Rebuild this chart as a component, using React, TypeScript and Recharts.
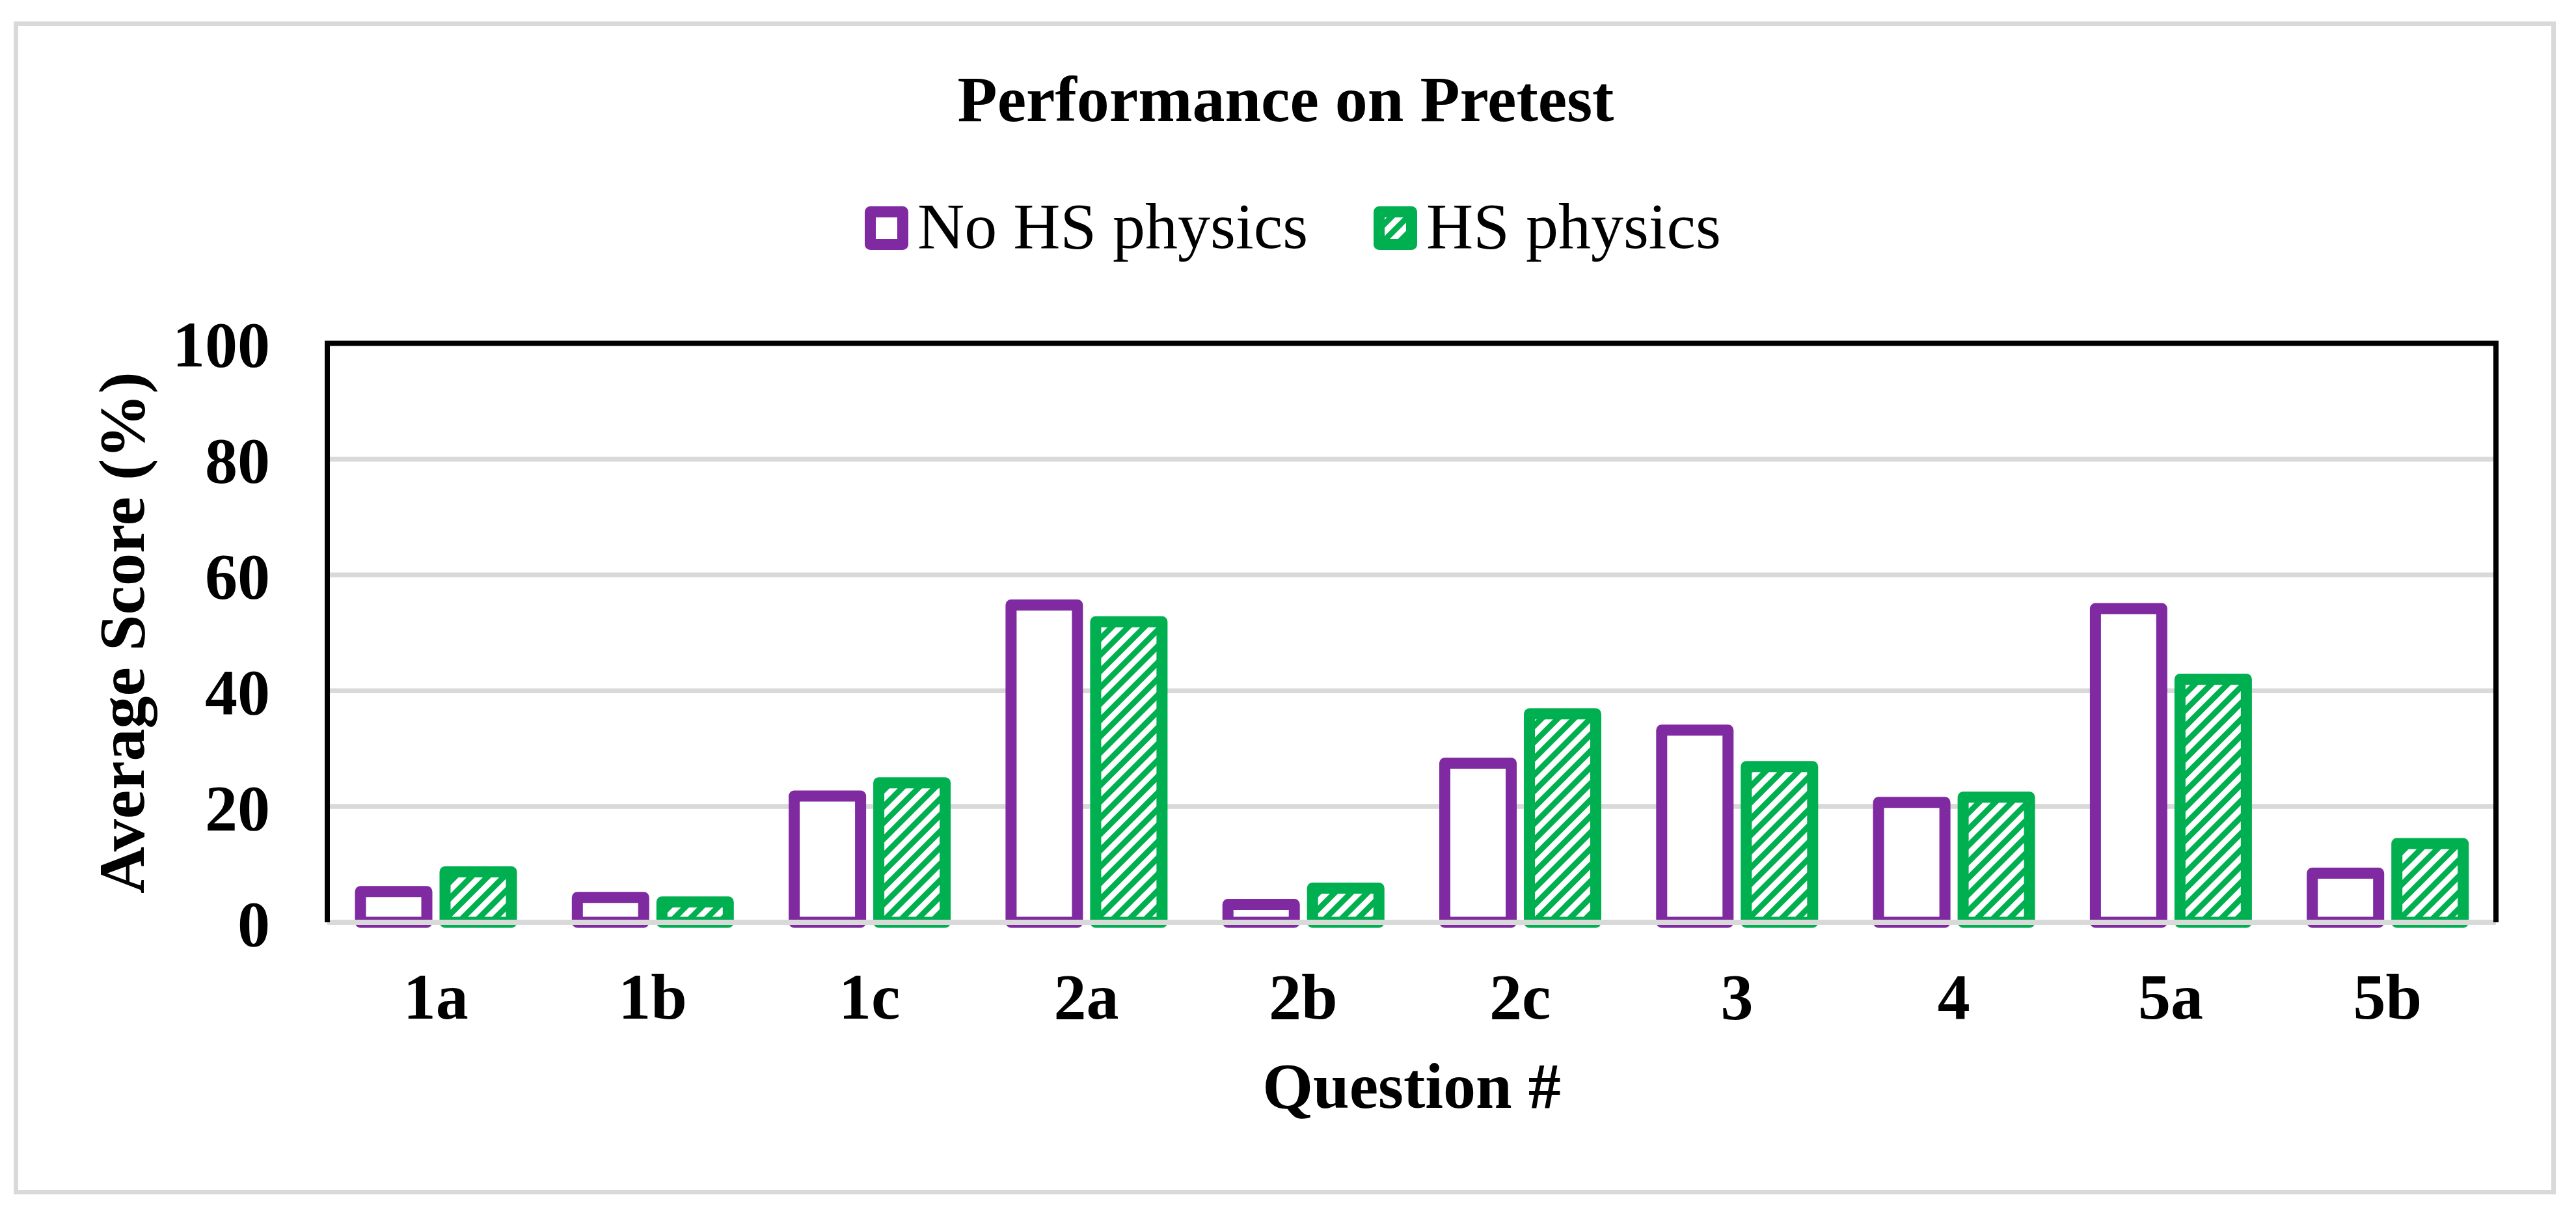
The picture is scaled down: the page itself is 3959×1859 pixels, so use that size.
import React from 'react';
import { BarChart, Bar, XAxis, YAxis, CartesianGrid, ReferenceLine, Legend, Label } from 'recharts';

const questions = ['1a', '1b', '1c', '2a', '2b', '2c', '3', '4', '5a', '5b'];
const noHsPhysics = [5.3, 4.3, 21.8, 54.8, 3.1, 27.5, 33.2, 20.7, 54.2, 8.5];
const hsPhysics = [8.7, 3.5, 24.1, 51.9, 5.9, 36.0, 26.9, 21.6, 42.0, 13.6];
const yTicks = [0, 20, 40, 60, 80, 100];

const PURPLE = '#7F2AA0';
const GREEN = '#00B050';
const GRID = '#D9D9D9';
const FONT = '"Liberation Serif", "Times New Roman", serif';

const data = questions.map((q, i) => ({ q, noHs: noHsPhysics[i], hs: hsPhysics[i] }));

const series = [
  { key: 'noHs', name: 'No HS physics', fill: '#fff', stroke: PURPLE },
  { key: 'hs', name: 'HS physics', fill: 'url(#hatchLegend)', stroke: GREEN },
];

const Hatch = ({ id }: { id: string }) => (
  <pattern id={id} patternUnits="userSpaceOnUse" width={17.7} height={17.7} patternTransform="rotate(45)">
    <rect width={17.7} height={17.7} fill={GREEN} />
    <rect width={8.85} height={17.7} fill="#fff" />
  </pattern>
);

function LegendContent() {
  return (
    <div style={{ display: 'flex', alignItems: 'flex-start', fontFamily: FONT, fontSize: 100, lineHeight: '100px', color: '#000' }}>
      {series.map((s, i) => (
        <div key={s.key} style={{ display: 'flex', alignItems: 'flex-start', marginLeft: i === 0 ? 0 : 101 }}>
          <svg width={67} height={67} style={{ marginTop: 19, marginRight: 14 }}>
            <defs><Hatch id="hatchLegend" /></defs>
            <rect x={8.5} y={8.5} width={50} height={50} fill={s.fill} stroke={s.stroke} strokeWidth={17} strokeLinejoin="round" />
          </svg>
          <span style={{ whiteSpace: 'nowrap' }}>{s.name}</span>
        </div>
      ))}
    </div>
  );
}

const tickStyle = { fontFamily: FONT, fontSize: 100, fontWeight: 700, fill: '#000' };

export default function App() {
  return (
    <div style={{ position: 'relative', width: 3959, height: 1859, background: '#fff' }}>
      <style>{'body{margin:0;}'}</style>
      <div style={{ position: 'absolute', left: 21, top: 33, width: 3907, height: 1802, boxSizing: 'border-box', border: `7px solid ${GRID}` }} />
      <div style={{ position: 'absolute', left: 0, top: 103, width: 3952, textAlign: 'center', fontFamily: FONT, fontWeight: 700, fontSize: 100, lineHeight: '100px' }}>
        Performance on Pretest
      </div>
      <BarChart
        width={3959}
        height={1859}
        data={data}
        barGap={28}
        margin={{ top: 527.5, right: 122, bottom: 157, left: 0 }}
        style={{ position: 'absolute', left: 0, top: 0 }}
      >
        <defs>
          <Hatch id="hatch" />
        </defs>
        <CartesianGrid vertical={false} stroke={GRID} strokeWidth={7.5} />
        <XAxis
          dataKey="q"
          height={285}
          interval={0}
          tickLine={false}
          tickSize={0}
          tickMargin={77}
          axisLine={{ stroke: GRID, strokeWidth: 8 }}
          tick={tickStyle}
        >
          <Label value="Question #" position="insideBottom" offset={0} fontFamily={FONT} fontSize={100} fontWeight={700} fill="#000" />
        </XAxis>
        <YAxis
          domain={[0, 100]}
          ticks={yTicks}
          width={503}
          interval={0}
          tickLine={false}
          tickSize={0}
          tickMargin={88}
          axisLine={{ stroke: '#000', strokeWidth: 8 }}
          tick={tickStyle}
        >
          <Label
            value="Average Score (%)"
            angle={-90}
            position="insideLeft"
            offset={185}
            fontFamily={FONT}
            fontSize={100}
            fontWeight={700}
            fill="#000"
            style={{ textAnchor: 'middle' }}
          />
        </YAxis>
        <YAxis
          yAxisId="right"
          orientation="right"
          domain={[0, 100]}
          width={1}
          tick={false}
          tickLine={false}
          axisLine={{ stroke: '#000', strokeWidth: 8 }}
        />
        <Legend
          layout="horizontal"
          verticalAlign="middle"
          align="center"
          content={LegendContent}
          wrapperStyle={{ top: 298, left: 1329, width: 1500, height: 100 }}
        />
        <Bar dataKey="noHs" name="No HS physics" fill="#fff" stroke={PURPLE} strokeWidth={17} strokeLinejoin="round" barSize={102} isAnimationActive={false} />
        <Bar dataKey="hs" name="HS physics" fill="url(#hatch)" stroke={GREEN} strokeWidth={17} strokeLinejoin="round" barSize={102} isAnimationActive={false} />
        <ReferenceLine y={0} stroke={GRID} strokeWidth={8} />
        <ReferenceLine y={100} stroke="#000" strokeWidth={8} strokeLinecap="square" />
      </BarChart>
    </div>
  );
}
